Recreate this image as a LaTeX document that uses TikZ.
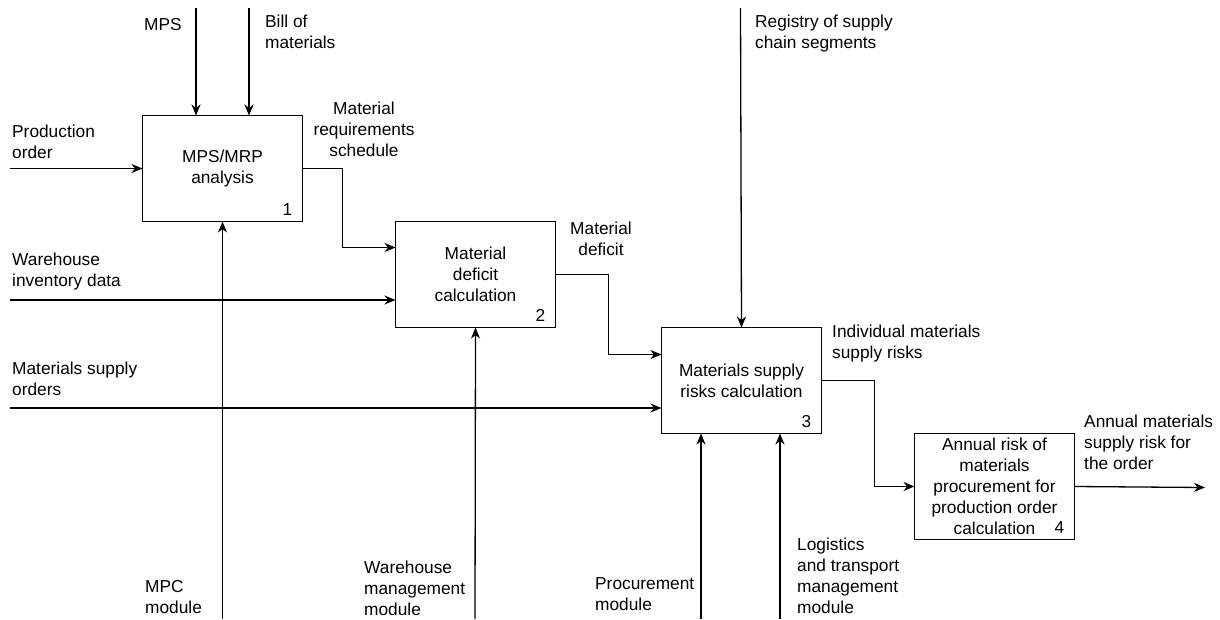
\documentclass[tikz,border=0pt]{standalone}
\usepackage{fontspec}
\setmainfont{Liberation Sans}
\usetikzlibrary{positioning}
\usetikzlibrary{arrows.meta,calc}

\begin{document}
\begin{tikzpicture} [
       x=1pt, y=-1pt,
       every node/.style={font=\fontsize{17.3}{21}\selectfont},
       process/.style={rectangle, draw, line width=1.3pt, outer sep=0pt,
               minimum width=160pt, minimum height=106pt, align=center},
       num/.style={anchor=south east, inner xsep=10pt, inner ysep=6pt},
       texte/.style={anchor=north west, inner sep=0pt, align=left},
       textc/.style={anchor=north, inner sep=0pt, align=center},
        line/.style     = { draw, line width=1.3pt, -{Stealth[length=11pt, width=9pt, inset=3.5pt]} },
       ]
       \useasboundingbox (0,0) rectangle (1220,619);
       \node (box1) [process] at (222.5,168.5) {MPS/MRP\\analysis};
       \node (box2) [process, below right = 0pt and 93pt of box1] {Material\\deficit\\calculation};
       \node (box3) [process, below right = 0pt and 106pt of box2] {Materials supply\\risks calculation};
       \node (box4) [process, below right = 0pt and 93pt of box3] {Annual risk of\\materials\\procurement for\\production order\\calculation};
       \node [num] at (box1.south east) {1};
       \node [num] at (box2.south east) {2};
       \node [num] at (box3.south east) {3};
       \node [num] at (box4.south east) {4};

       \node (lmps) [texte] at (144,18) {MPS};
       \node (lbom) [texte] at (265,15) {Bill of\\materials};
       \node (lprod) [texte] at (12,125) {Production\\order};
       \node (lsched) [textc] at (364,102) {Material\\requirements\\schedule};
       \node (lwhinv) [texte] at (12,253) {Warehouse\\inventory data};
       \node (ldef) [textc] at (601,222) {Material\\deficit};
       \node (lsup) [texte] at (12,362) {Materials supply\\orders};
       \node (lreg) [texte] at (755,15) {Registry of supply\\chain segments};
       \node (lrisk) [texte] at (832,325) {Individual materials\\supply risks};
       \node (lannual) [texte] at (1084,415) {Annual materials\\supply risk for\\the order};
       \node (lmpc) [texte] at (145,580) {MPC\\module};
       \node (lwhmod) [texte] at (364,561) {Warehouse\\management\\module};
       \node (lproc) [texte] at (595,577) {Procurement\\module};
       \node (llog) [texte] at (797,538) {Logistics\\and transport\\management\\module};

       \coordinate (mps) at (196,8);
       \coordinate (bom) at (249,8);
       \coordinate (prodord) at (10,168.5);
       \coordinate (whinv) at (10,300);
       \coordinate (supord) at (10,408);
       \coordinate (registry) at (740.5,8);
       \coordinate (mpc) at (222.5,619);
       \coordinate (whmod) at (475,619);
       \coordinate (procmod) at (701,619);
       \coordinate (logmod) at (780,619);
       \coordinate (annual) at (1205,487.5);

        \begin{scope}[every path/.style=line]
        \path (mps) -- (mps |- box1.north);
        \path (bom) -- (bom |- box1.north);
        \path (prodord) -- (box1.west);
        \path (mpc) -- (box1.south);
        \path (box1.east) -- ++(40,0) |- ([yshift=27pt]box2.west);
        \path (whinv) -- (whinv -| box2.west);
        \path (whmod) -- (box2.south);
        \path (box2.east) -- ++(53,0) |- ([yshift=26pt]box3.west);
        \path (supord) -- (supord -| box3.west);
        \path (registry) -- (box3.north);
        \path (procmod) -- (procmod |- box3.south);
        \path (logmod) -- (logmod |- box3.south);
        \path (box3.east) -- ++(53,0) |- (box4.west);
        \path (box4.east) -- (annual);
\end{scope}
\end{tikzpicture}
\end{document}
